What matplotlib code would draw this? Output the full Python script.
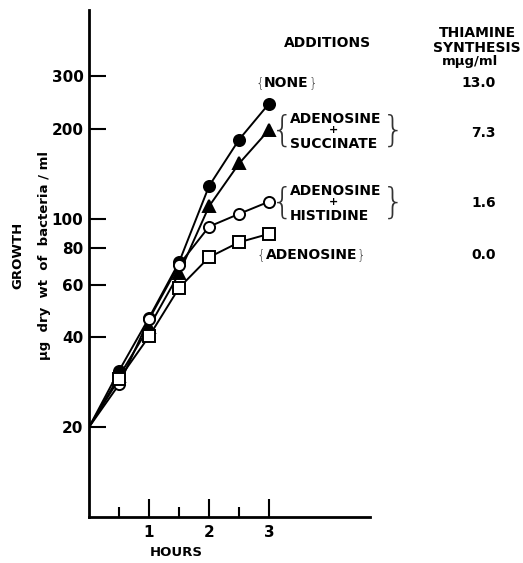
import matplotlib
matplotlib.use("Agg")
import matplotlib.pyplot as plt

# growth of bacteria (ug dry wt / ml) against time, log scale
hours = [0.5, 1, 1.5, 2, 2.5, 3]
start_hours = 0
start_growth = 20

none = [30.9, 46.5, 71.4, 128.6, 184, 243]
adenosine_succinate = [29.6, 43.3, 65.5, 110, 153, 198.5]
adenosine_histidine = [27.8, 46, 70, 94, 103.7, 114]
adenosine = [29.0, 40.3, 58.6, 74.2, 83.3, 88.9]

yticks = [20, 40, 60, 80, 100, 200, 300]
thiamine = ["13.0", "7.3", "1.6", "0.0"]

plt.rcParams['font.family'] = ['DejaVu Sans']
plt.rcParams['font.weight'] = 'bold'

W, H = 523, 563
fig = plt.figure(figsize=(W / 100, H / 100), dpi=100)


def fx(x):
    return x / W


def fy(y):
    return 1 - y / H


ax = fig.add_axes([fx(89), fy(517), fx(370) - fx(89), fy(10) - fy(517)])
ax.set_yscale('log')
ax.set_xlim(0, 4.68)
ax.set_ylim(10, 500)

series = [
    (none, 'o', 'black'),
    (adenosine_succinate, '^', 'black'),
    (adenosine_histidine, 'o', 'white'),
    (adenosine, 's', 'white'),
]
for vals, mk, face in series:
    ax.plot([start_hours, hours[0]], [start_growth, vals[0]], color='black', lw=1.4)
    ax.plot(hours, vals, color='black', lw=1.4, marker=mk, markersize=8,
            markerfacecolor=face, markeredgecolor='black', markeredgewidth=1.4)

for s in ['top', 'right']:
    ax.spines[s].set_visible(False)
for s in ['left', 'bottom']:
    ax.spines[s].set_linewidth(2)

ax.set_yticks(yticks)
ax.set_yticklabels([str(v) for v in yticks], fontsize=11, fontweight='bold')
ax.yaxis.set_minor_locator(matplotlib.ticker.NullLocator())
ax.tick_params(axis='y', direction='in', length=12, width=1.5, pad=4)

ax.set_xticks([1, 2, 3])
ax.set_xticklabels(['1', '2', '3'], fontsize=11, fontweight='bold')
ax.set_xticks([0.5, 1.5, 2.5], minor=True)
ax.tick_params(axis='x', which='major', direction='in', length=13, width=1.5, pad=6)
ax.tick_params(axis='x', which='minor', direction='in', length=7, width=1.5)

fig.text(fx(176), fy(553), 'HOURS', ha='center', va='center', fontsize=9.5)
fig.text(fx(18), fy(255), 'GROWTH', rotation=90, ha='center', va='center', fontsize=9.5)
fig.text(fx(45), fy(255), 'μg  dry  wt  of  bacteria / ml', rotation=90,
         ha='center', va='center', fontsize=9.5)

# header on the right
fig.text(fx(327), fy(43), 'ADDITIONS', ha='center', va='center', fontsize=10)
fig.text(fx(477), fy(33), 'THIAMINE', ha='center', va='center', fontsize=10)
fig.text(fx(477), fy(48), 'SYNTHESIS', ha='center', va='center', fontsize=10)
fig.text(fx(470), fy(61), 'mμg/ml', ha='center', va='center', fontsize=9.5)

for t, y in zip(thiamine, [83, 133, 203, 255]):
    fig.text(fx(496), fy(y), t, ha='right', va='center', fontsize=10)


def brace(x, y, ch, size):
    fig.text(fx(x), fy(y), ch, ha='center', va='center', fontsize=size,
             fontweight='light', color='#333333')


# labels of additions
fig.text(fx(264), fy(83), 'NONE', ha='left', va='center', fontsize=10)
brace(260, 83, '{', 10)
brace(313, 83, '}', 10)

fig.text(fx(266), fy(255), 'ADENOSINE', ha='left', va='center', fontsize=10)
brace(261, 255, '{', 10)
brace(361, 255, '}', 10)

for top, bottom, yc in [('ADENOSINE', 'SUCCINATE', 131), ('ADENOSINE', 'HISTIDINE', 203)]:
    fig.text(fx(290), fy(yc - 12), top, ha='left', va='center', fontsize=10)
    fig.text(fx(333), fy(yc - 1), '+', ha='center', va='center', fontsize=8)
    fig.text(fx(290), fy(yc + 13), bottom, ha='left', va='center', fontsize=10)
    brace(282, yc, '{', 26)
    brace(393, yc, '}', 26)

fig.savefig('out.png', dpi=100)
